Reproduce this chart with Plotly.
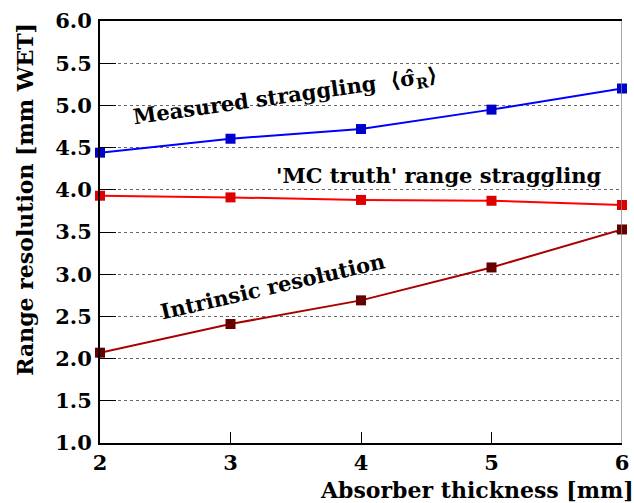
import plotly.graph_objects as go

thickness = [2, 3, 4, 5, 6]
measured = [4.44, 4.605, 4.72, 4.95, 5.20]
mc_truth = [3.93, 3.91, 3.88, 3.87, 3.82]
intrinsic = [2.07, 2.41, 2.69, 3.08, 3.53]

y_ticks = [1.0, 1.5, 2.0, 2.5, 3.0, 3.5, 4.0, 4.5, 5.0, 5.5, 6.0]
x_ticks = [2, 3, 4, 5, 6]

FONT = "DejaVu Serif"

fig = go.Figure()
series = [
    (measured, "#0000ff", "#0000cc", "Measured"),
    (mc_truth, "#ff0000", "#dd0000", "MC truth"),
    (intrinsic, "#aa0000", "#660000", "Intrinsic"),
]
for vals, lc, mc, name in series:
    fig.add_trace(go.Scatter(
        x=thickness, y=vals, mode="lines+markers", name=name,
        line=dict(color=lc, width=2),
        marker=dict(symbol="square", size=10, color=mc),
        cliponaxis=False, showlegend=False,
    ))

fig.update_layout(
    width=634, height=503,
    margin=dict(l=100, r=5, t=21, b=60),
    plot_bgcolor="white", paper_bgcolor="white",
    font=dict(family=FONT, color="black"),
)
fig.update_xaxes(
    range=[2, 6], tickvals=x_ticks, ticktext=[f"<b>{v}</b>" for v in x_ticks],
    ticks="inside", ticklen=11, tickwidth=1, tickcolor="black",
    showline=True, linecolor="black", linewidth=2, mirror=True,
    showgrid=False, zeroline=False, ticklabeloverflow="allow",
    tickfont=dict(family=FONT, size=21, color="black"),
)
fig.update_yaxes(
    range=[1.0, 6.0], tickvals=y_ticks, ticktext=[f"<b>{v:.1f}</b>" for v in y_ticks],
    ticks="inside", ticklen=16, tickwidth=1, tickcolor="black",
    showline=True, linecolor="black", linewidth=2,
    showgrid=True, gridcolor="#666666", gridwidth=1, griddash="dot",
    zeroline=False, ticklabeloverflow="allow", ticklabelstandoff=2,
    tickfont=dict(family=FONT, size=21, color="black"),
)

fig.add_shape(type="line", xref="x", yref="paper", x0=6, x1=6, y0=0, y1=1,
              line=dict(color="#888888", width=1.5))

fig.add_annotation(text="<b>Absorber thickness [mm]</b>", xref="paper", yref="paper",
                   x=1.026, y=-0.112, xanchor="right", yanchor="middle", showarrow=False,
                   font=dict(family=FONT, size=22))
fig.add_annotation(text="<b>Range resolution [mm WET]</b>", xref="paper", yref="paper",
                   x=-0.145, y=1.0, xanchor="center", yanchor="top", textangle=-90,
                   showarrow=False, font=dict(family=FONT, size=22))

fig.add_annotation(text="<b>Measured straggling  \u27e8\u03c3\u0302<sub>R</sub>\u27e9</b>",
                   xref="x", yref="y", x=3.42, y=5.1, textangle=-8, showarrow=False,
                   font=dict(family=FONT, size=21))
fig.add_annotation(text="<b>'MC truth' range straggling</b>", xref="x", yref="y",
                   x=4.6, y=4.17, showarrow=False,
                   font=dict(family=FONT, size=21))
fig.add_annotation(text="<b>Intrinsic resolution</b>", xref="x", yref="y",
                   x=3.32, y=2.85, textangle=-13, showarrow=False,
                   font=dict(family=FONT, size=21))

fig.write_html("out.html")
